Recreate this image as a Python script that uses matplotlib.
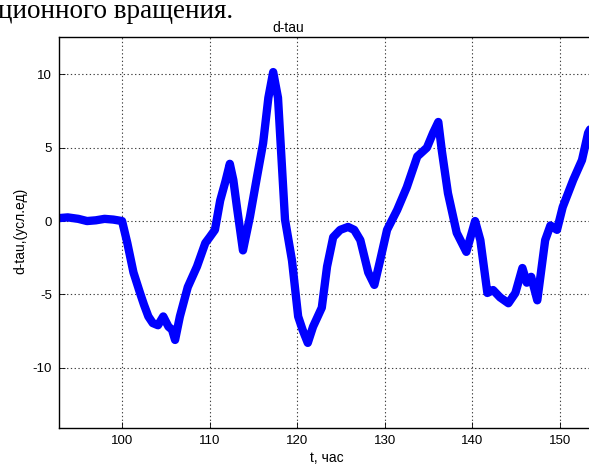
import matplotlib
matplotlib.use("Agg")
import matplotlib.pyplot as plt

plt.rcParams["axes.unicode_minus"] = False

t_hours = [92.8, 93.8, 95.0, 96.0, 97.0, 98.0, 99.0, 100.0, 100.6, 101.3, 102.05,
           102.5, 103.0, 103.5, 104.1, 104.7, 105.3, 105.7, 106.05, 106.6, 107.5,
           108.55, 109.5, 110.0, 110.6, 111.2, 111.8, 112.3, 112.7, 113.1, 113.8,
           114.6, 115.4, 116.1, 116.7, 117.25, 117.8, 118.6, 119.4, 120.1, 120.6,
           121.2, 121.8, 122.8, 123.4, 124.1, 124.9, 125.8, 126.5, 127.2, 128.1,
           128.8, 129.45, 130.25, 131.4, 132.5, 133.7, 134.8, 135.5, 136.1, 136.5,
           137.2, 138.2, 139.3, 140.3, 140.9, 141.7, 142.35, 143.15, 144.1, 144.9,
           145.7, 146.2, 146.7, 147.4, 148.3, 148.9, 149.65, 150.3, 151.5, 152.5,
           153.2, 154.0]
d_tau = [0.2, 0.25, 0.15, 0.0, 0.05, 0.15, 0.1, 0.0, -1.5, -3.5, -4.9,
         -5.7, -6.5, -6.95, -7.1, -6.5, -7.2, -7.4, -8.1, -6.5, -4.5,
         -3.1, -1.5, -1.1, -0.6, 1.4, 2.7, 3.9, 2.8, 1.0, -2.0,
         0.3, 3.0, 5.3, 8.4, 10.15, 8.4, 0.1, -2.7, -6.5, -7.4,
         -8.3, -7.2, -5.9, -3.1, -1.1, -0.6, -0.4, -0.6, -1.3, -3.5,
         -4.35, -2.7, -0.6, 0.75, 2.3, 4.4, 5.0, 6.0, 6.75, 4.8,
         1.9, -0.8, -2.1, 0.0, -1.3, -4.9, -4.7, -5.2, -5.6, -4.9,
         -3.2, -4.2, -3.8, -5.4, -1.3, -0.3, -0.6, 0.95, 2.8, 4.15,
         6.0, 6.9]
x_ticks = [100, 110, 120, 130, 140, 150]
y_ticks = [-10, -5, 0, 5, 10]

W, H = 589, 466
fig = plt.figure(figsize=(W / 100, H / 100), dpi=100)
font = "Liberation Sans"

ax_left, ax_bottom, ax_top = 59, 428, 37
ax_w_frac = 0.95
ax = fig.add_axes([ax_left / W, (H - ax_bottom) / H, ax_w_frac, (ax_bottom - ax_top) / H])

px_per_unit = 8.76
x0 = 92.8
ax.set_xlim(x0, x0 + ax_w_frac * W / px_per_unit)
ax.set_ylim(-14.1, 12.54)

ax.plot(t_hours, d_tau, color="#0000ff", lw=6.0, solid_capstyle="round", solid_joinstyle="round")

ax.set_xticks(x_ticks)
ax.set_yticks(y_ticks)
ax.set_xticklabels([str(v) for v in x_ticks], fontfamily=font, fontsize=9.5)
ax.set_yticklabels([str(v) for v in y_ticks], fontfamily=font, fontsize=9.5)
ax.tick_params(direction="in", length=4, width=0.6, pad=5, colors="black")
ax.grid(True, linestyle=(0, (1.2, 2.2)), color="black", linewidth=0.8, alpha=0.75)
for s in ax.spines.values():
    s.set_linewidth(1.0)

fig.text(288 / W, (H - 32) / H, "d-tau", ha="center", va="baseline",
         fontfamily=font, fontsize=10)
fig.text(327 / W, (H - 462) / H, "t, час", ha="center", va="baseline",
         fontfamily=font, fontsize=10)
fig.text(20 / W, (H - 231) / H, "d-tau,(усл.ед)", ha="center", va="center",
         rotation=90, fontfamily=font, fontsize=10)
fig.text(-0.004, (H - 18) / H, "ционного вращения.", ha="left", va="baseline",
         fontfamily="Liberation Serif", fontsize=19.5)

fig.savefig("out.png", dpi=100)
